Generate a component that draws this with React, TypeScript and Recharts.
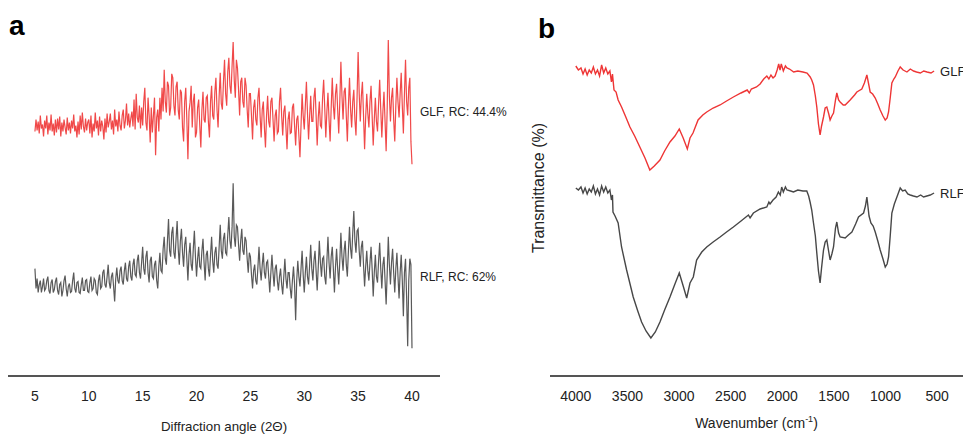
import React from 'react';
import { LineChart, Line, XAxis, YAxis, ReferenceDot } from 'recharts';

const FONT = '"Liberation Sans", Arial, sans-serif';

// XRD (panel a) - diffraction angle 2θ, intensities in a.u. (offset traces)
const angles = [
  5, 5.1, 5.2, 5.3, 5.4, 5.5, 5.6, 5.7, 5.8, 5.9,
  6, 6.1, 6.2, 6.3, 6.4, 6.5, 6.6, 6.7, 6.8, 6.9,
  7, 7.1, 7.2, 7.3, 7.4, 7.5, 7.6, 7.7, 7.8, 7.9,
  8, 8.1, 8.2, 8.3, 8.4, 8.5, 8.6, 8.7, 8.8, 8.9,
  9, 9.1, 9.2, 9.3, 9.4, 9.5, 9.6, 9.7, 9.8, 9.9,
  10, 10.1, 10.2, 10.3, 10.4, 10.5, 10.6, 10.7, 10.8, 10.9,
  11, 11.1, 11.2, 11.3, 11.4, 11.5, 11.6, 11.7, 11.8, 11.9,
  12, 12.1, 12.2, 12.3, 12.4, 12.5, 12.6, 12.7, 12.8, 12.9,
  13, 13.1, 13.2, 13.3, 13.4, 13.5, 13.6, 13.7, 13.8, 13.9,
  14, 14.1, 14.2, 14.3, 14.4, 14.5, 14.6, 14.7, 14.8, 14.9,
  15, 15.1, 15.2, 15.3, 15.4, 15.5, 15.6, 15.7, 15.8, 15.9,
  16, 16.1, 16.2, 16.3, 16.4, 16.5, 16.6, 16.7, 16.8, 16.9,
  17, 17.1, 17.2, 17.3, 17.4, 17.5, 17.6, 17.7, 17.8, 17.9,
  18, 18.1, 18.2, 18.3, 18.4, 18.5, 18.6, 18.7, 18.8, 18.9,
  19, 19.1, 19.2, 19.3, 19.4, 19.5, 19.6, 19.7, 19.8, 19.9,
  20, 20.1, 20.2, 20.3, 20.4, 20.5, 20.6, 20.7, 20.8, 20.9,
  21, 21.1, 21.2, 21.3, 21.4, 21.5, 21.6, 21.7, 21.8, 21.9,
  22, 22.1, 22.2, 22.3, 22.4, 22.5, 22.6, 22.7, 22.8, 22.9,
  23, 23.1, 23.2, 23.3, 23.4, 23.5, 23.6, 23.7, 23.8, 23.9,
  24, 24.1, 24.2, 24.3, 24.4, 24.5, 24.6, 24.7, 24.8, 24.9,
  25, 25.1, 25.2, 25.3, 25.4, 25.5, 25.6, 25.7, 25.8, 25.9,
  26, 26.1, 26.2, 26.3, 26.4, 26.5, 26.6, 26.7, 26.8, 26.9,
  27, 27.1, 27.2, 27.3, 27.4, 27.5, 27.6, 27.7, 27.8, 27.9,
  28, 28.1, 28.2, 28.3, 28.4, 28.5, 28.6, 28.7, 28.8, 28.9,
  29, 29.1, 29.2, 29.3, 29.4, 29.5, 29.6, 29.7, 29.8, 29.9,
  30, 30.1, 30.2, 30.3, 30.4, 30.5, 30.6, 30.7, 30.8, 30.9,
  31, 31.1, 31.2, 31.3, 31.4, 31.5, 31.6, 31.7, 31.8, 31.9,
  32, 32.1, 32.2, 32.3, 32.4, 32.5, 32.6, 32.7, 32.8, 32.9,
  33, 33.1, 33.2, 33.3, 33.4, 33.5, 33.6, 33.7, 33.8, 33.9,
  34, 34.1, 34.2, 34.3, 34.4, 34.5, 34.6, 34.7, 34.8, 34.9,
  35, 35.1, 35.2, 35.3, 35.4, 35.5, 35.6, 35.7, 35.8, 35.9,
  36, 36.1, 36.2, 36.3, 36.4, 36.5, 36.6, 36.7, 36.8, 36.9,
  37, 37.1, 37.2, 37.3, 37.4, 37.5, 37.6, 37.7, 37.8, 37.9,
  38, 38.1, 38.2, 38.3, 38.4, 38.5, 38.6, 38.7, 38.8, 38.9,
  39, 39.1, 39.2, 39.3, 39.4, 39.5, 39.6, 39.7, 39.8, 39.9,
  40,
];

const glfCounts = [
  246, 258, 247, 256, 244, 262, 249, 253, 241, 257,
  249, 262, 243, 255, 247, 263, 246, 254, 242, 258,
  245, 259, 248, 261, 241, 255, 246, 258, 250, 243,
  260, 247, 255, 244, 257, 249, 263, 246, 252, 240,
  256, 243, 262, 248, 265, 251, 245, 259, 247, 255,
  258, 244, 262, 240, 254, 246, 265, 249, 257, 242,
  261, 246, 257, 251, 238, 259, 245, 264, 250, 256,
  264, 248, 257, 243, 268, 251, 258, 246, 266, 252,
  247, 262, 268, 249, 257, 274, 252, 264, 250, 259,
  266, 251, 278, 248, 284, 260, 255, 272, 249, 270,
  252, 276, 290, 255, 247, 280, 262, 235, 270, 245,
  262, 280, 222, 260, 268, 246, 280, 258, 290, 266,
  308, 276, 265, 296, 292, 262, 270, 304, 300, 272,
  262, 291, 296, 268, 258, 288, 285, 250, 236, 276,
  290, 258, 218, 266, 275, 292, 250, 276, 284, 240,
  245, 270, 278, 252, 230, 268, 286, 258, 255, 280,
  282, 256, 240, 276, 292, 262, 258, 286, 300, 268,
  250, 282, 305, 274, 268, 296, 318, 284, 272, 306,
  320, 292, 284, 312, 336, 298, 280, 318, 310, 288,
  262, 296, 300, 276, 270, 300, 292, 268, 250, 284,
  284, 262, 238, 270, 278, 258, 252, 280, 290, 262,
  240, 268, 276, 250, 230, 262, 282, 256, 250, 276,
  280, 258, 236, 262, 268, 244, 246, 276, 290, 262,
  242, 266, 272, 250, 228, 258, 266, 244, 245, 270,
  274, 252, 232, 258, 262, 242, 220, 252, 284, 262,
  248, 272, 296, 264, 238, 262, 282, 256, 256, 280,
  290, 262, 232, 260, 276, 252, 250, 280, 298, 270,
  240, 266, 285, 258, 236, 270, 300, 272, 258, 284,
  294, 268, 244, 276, 316, 282, 258, 286, 290, 262,
  236, 272, 300, 268, 250, 276, 288, 258, 242, 280,
  326, 284, 256, 282, 296, 262, 228, 260, 284, 264,
  250, 276, 292, 262, 232, 258, 280, 256, 246, 274,
  298, 268, 240, 266, 286, 256, 226, 270, 338, 282,
  256, 280, 290, 258, 236, 272, 300, 276, 260, 284,
  305, 272, 244, 284, 318, 276, 262, 290, 300, 236,
  213,
];

const rlfCounts = [
  108, 88, 98, 84, 92, 96, 84, 90, 98, 86,
  88, 96, 100, 86, 83, 94, 97, 84, 87, 95,
  99, 86, 82, 92, 94, 80, 86, 96, 101, 88,
  80, 90, 93, 84, 85, 96, 104, 88, 84, 94,
  95, 84, 83, 92, 99, 86, 86, 96, 97, 85,
  84, 94, 100, 86, 88, 98, 96, 84, 82, 96,
  102, 88, 90, 104, 107, 92, 89, 100, 112, 94,
  88, 100, 104, 90, 75, 98, 109, 96, 93, 106,
  110, 96, 92, 106, 114, 98, 95, 110, 116, 100,
  96, 112, 118, 102, 100, 116, 122, 104, 98, 114,
  130, 108, 102, 120, 126, 104, 94, 116, 120, 100,
  98, 112, 116, 96, 88, 110, 124, 106, 104, 128,
  140, 118, 112, 136, 158, 126, 120, 144, 150, 124,
  118, 138, 156, 128, 112, 136, 148, 124, 110, 132,
  140, 118, 96, 122, 134, 112, 106, 128, 146, 120,
  100, 118, 130, 110, 108, 126, 138, 114, 96, 122,
  126, 108, 100, 122, 140, 116, 104, 124, 130, 112,
  108, 130, 152, 126, 118, 138, 144, 124, 122, 142,
  160, 136, 128, 150, 194, 140, 130, 152, 150, 132,
  116, 136, 148, 126, 122, 140, 136, 118, 104, 124,
  120, 102, 88, 106, 112, 96, 92, 110, 130, 108,
  96, 112, 124, 104, 98, 114, 116, 100, 84, 104,
  122, 104, 90, 108, 112, 96, 86, 100, 108, 92,
  82, 100, 118, 98, 88, 104, 104, 88, 78, 96,
  110, 92, 56, 96, 116, 100, 90, 108, 126, 102,
  84, 104, 120, 100, 92, 112, 132, 108, 96, 116,
  126, 106, 86, 110, 136, 114, 100, 118, 120, 100,
  92, 116, 140, 114, 98, 120, 130, 108, 84, 110,
  128, 108, 92, 116, 144, 120, 106, 126, 136, 112,
  100, 126, 150, 128, 118, 144, 166, 136, 124, 146,
  148, 126, 110, 130, 136, 112, 90, 110, 126, 106,
  96, 114, 130, 108, 80, 104, 122, 100, 94, 116,
  134, 108, 88, 112, 120, 96, 72, 104, 140, 112,
  92, 114, 128, 104, 84, 108, 124, 100, 78, 104,
  122, 96, 60, 104, 118, 80, 30, 96, 118, 112,
  28,
];

const xrdTicks = [5, 10, 15, 20, 25, 30, 35, 40];

// FTIR (panel b) - wavenumber (cm-1) and transmittance (offset traces)
const glfWavenumber = [
  4000, 3975, 3950, 3930, 3910, 3890, 3870, 3850, 3830, 3810, 3790, 3770, 3750, 3730, 3710, 3690,
  3670, 3655, 3645, 3630, 3610, 3590, 3557, 3520, 3476, 3430, 3380, 3330, 3283, 3240, 3185, 3140,
  3088, 3040, 2998, 2960, 2920, 2894, 2865, 2816, 2770, 2732, 2670, 2603, 2540, 2474, 2400, 2340,
  2320, 2300, 2250, 2215, 2180, 2150, 2130, 2110, 2090, 2070, 2050, 2035, 2022, 2010, 1990, 1970,
  1955, 1930, 1890, 1850, 1800, 1760, 1730, 1715, 1698, 1680, 1666, 1650, 1634, 1620, 1601, 1585,
  1569, 1550, 1537, 1520, 1504, 1485, 1472, 1455, 1440, 1410, 1391, 1343, 1300, 1278, 1230, 1205,
  1181, 1160, 1149, 1125, 1100, 1075, 1052, 1025, 1003, 985, 971, 955, 939, 920, 906, 880,
  858, 830, 793, 760, 729, 700, 663, 630, 598, 560, 530,
];
const glfTransmittance = [
  310, 306, 308, 302, 307, 301, 306, 303, 309, 302, 306, 300, 311, 303, 308, 302,
  305, 294, 302, 286, 284, 276, 269, 260, 249, 240, 229, 218, 206, 210, 216, 225,
  234, 240, 247, 238, 227, 238, 243, 256, 261, 264, 268, 271, 275, 279, 283, 286,
  283, 287, 289, 292, 297, 300, 297, 301, 298, 300, 306, 312, 306, 312, 305, 310,
  308, 307, 304, 305, 304, 303, 299, 296, 291, 280, 269, 252, 241, 250, 259, 268,
  269, 262, 256, 260, 263, 276, 283, 276, 274, 271, 271, 276, 281, 284, 287, 293,
  301, 290, 284, 282, 278, 272, 266, 260, 256, 258, 264, 278, 293, 297, 299, 305,
  309, 306, 304, 307, 305, 304, 303, 305, 304, 303, 305,
];

const rlfWavenumber = [
  4000, 3975, 3950, 3930, 3910, 3890, 3870, 3850, 3830, 3810, 3790, 3770, 3750, 3730, 3710, 3690,
  3670, 3655, 3645, 3640, 3620, 3590, 3557, 3508, 3444, 3400, 3363, 3320, 3273, 3230, 3185, 3140,
  3088, 3040, 2998, 2960, 2926, 2894, 2862, 2830, 2780, 2732, 2670, 2603, 2540, 2474, 2400, 2328,
  2312, 2280, 2215, 2150, 2130, 2119, 2090, 2060, 2038, 2020, 2006, 1990, 1970, 1955, 1920, 1892,
  1850, 1800, 1763, 1745, 1731, 1715, 1698, 1680, 1666, 1650, 1634, 1620, 1601, 1585, 1569, 1550,
  1537, 1520, 1504, 1485, 1472, 1455, 1440, 1391, 1360, 1326, 1290, 1262, 1213, 1195, 1181, 1160,
  1142, 1120, 1100, 1075, 1052, 1025, 1003, 985, 971, 955, 939, 915, 890, 858, 835, 810,
  785, 761, 730, 696, 660, 632, 600, 567, 530,
];
const rlfTransmittance = [
  188, 186, 189, 183, 188, 182, 187, 184, 190, 182, 187, 181, 190, 184, 189, 183,
  186, 176, 181, 164, 160, 153, 129, 106, 79, 65, 54, 45, 38, 44, 54, 66,
  79, 92, 103, 90, 78, 93, 99, 116, 124, 129, 134, 139, 144, 149, 155, 161,
  158, 163, 167, 169, 174, 172, 176, 179, 184, 181, 189, 184, 189, 186, 185, 184,
  186, 185, 185, 180, 174, 166, 153, 140, 123, 105, 93, 108, 126, 134, 136, 124,
  116, 122, 129, 148, 154, 143, 139, 138, 141, 144, 152, 159, 163, 170, 179, 160,
  153, 150, 144, 135, 126, 117, 109, 112, 119, 140, 163, 172, 179, 188, 185, 186,
  182, 181, 180, 179, 181, 179, 180, 181, 183,
];

const ftirTicks = [4000, 3500, 3000, 2500, 2000, 1500, 1000, 500];

const xrdData = angles.map((a, i) => ({ angle: a, glf: glfCounts[i], rlf: rlfCounts[i] }));
const glfFtir = glfWavenumber.map((w, i) => ({ wn: w, t: glfTransmittance[i] }));
const rlfFtir = rlfWavenumber.map((w, i) => ({ wn: w, t: rlfTransmittance[i] }));

const RED = '#ee3535';
const GRAY = '#474747';
const AXIS = '#555';
const tickStyle = { fontSize: 14, fill: '#222', fontFamily: FONT };

const WavenumberLabel = ({ viewBox }: any) => {
  const { x, y, width } = viewBox;
  return (
    <text x={x + width / 2} y={y + 52} textAnchor="middle" fontSize={14} fill="#222" fontFamily={FONT}>
      Wavenumber (cm
      <tspan dy={-6} fontSize={9}>-1</tspan>
      <tspan dy={6}>)</tspan>
    </text>
  );
};

const TransmittanceLabel = ({ viewBox }: any) => {
  const { x, y, height } = viewBox;
  const cx = x + 24;
  const cy = y + height / 2 - 20;
  return (
    <text x={cx} y={cy} transform={`rotate(-90, ${cx}, ${cy})`} textAnchor="middle" fontSize={16} fill="#222" fontFamily={FONT}>
      Transmittance (%)
    </text>
  );
};

const panelLetter: React.CSSProperties = {
  position: 'absolute',
  fontFamily: FONT,
  fontWeight: 'bold',
  fontSize: 28,
  lineHeight: 1,
  color: '#000',
};

const App = () => {
  return (
    <div style={{ position: 'absolute', left: 0, top: 0, width: 963, height: 434, background: '#fff', overflow: 'hidden' }}>
      <div style={{ ...panelLetter, left: 9, top: 12 }}>a</div>
      <div style={{ ...panelLetter, left: 538, top: 15 }}>b</div>

      <div style={{ position: 'absolute', left: 0, top: 0 }}>
        <LineChart width={520} height={434} data={xrdData} margin={{ top: 40, right: 80, bottom: 0, left: 8 }}>
          <XAxis
            type="number"
            dataKey="angle"
            domain={[2.5, 42.6]}
            ticks={xrdTicks}
            tickLine={false}
            axisLine={{ stroke: AXIS, strokeWidth: 2 }}
            tick={tickStyle}
            tickMargin={9}
            height={58}
            label={{ value: 'Diffraction angle (2Θ)', position: 'insideBottom', offset: 3, fontSize: 13.3, fill: '#222', fontFamily: FONT }}
          />
          <YAxis hide domain={[0, 336]} />
          <Line type="linear" dataKey="glf" stroke={RED} strokeWidth={1.2} strokeOpacity={0.9} dot={false} isAnimationActive={false} />
          <Line type="linear" dataKey="rlf" stroke={GRAY} strokeWidth={1.2} strokeOpacity={0.9} dot={false} isAnimationActive={false} />
          <ReferenceDot
            x={40}
            y={266}
            r={0}
            fill="none"
            stroke="none"
            ifOverflow="visible"
            label={{ value: 'GLF, RC: 44.4%', position: 'right', offset: 8, fontSize: 12, fill: '#222', fontFamily: FONT }}
          />
          <ReferenceDot
            x={40}
            y={100}
            r={0}
            fill="none"
            stroke="none"
            ifOverflow="visible"
            label={{ value: 'RLF, RC: 62%', position: 'right', offset: 8, fontSize: 12, fill: '#222', fontFamily: FONT }}
          />
        </LineChart>
      </div>

      <div style={{ position: 'absolute', left: 520, top: 0 }}>
        <LineChart width={443} height={434} margin={{ top: 40, right: 0, bottom: 0, left: 0 }}>
          <XAxis
            type="number"
            dataKey="wn"
            domain={[250, 4250]}
            reversed
            ticks={ftirTicks}
            tickLine={false}
            axisLine={{ stroke: AXIS, strokeWidth: 2 }}
            tick={tickStyle}
            tickMargin={9}
            height={58}
            label={{ content: WavenumberLabel }}
          />
          <YAxis
            type="number"
            width={30}
            domain={[0, 336]}
            tick={false}
            tickLine={false}
            axisLine={false}
            label={{ content: TransmittanceLabel }}
          />
          <Line data={glfFtir} type="linear" dataKey="t" stroke={RED} strokeWidth={1.4} dot={false} isAnimationActive={false} />
          <Line data={rlfFtir} type="linear" dataKey="t" stroke={GRAY} strokeWidth={1.4} dot={false} isAnimationActive={false} />
          <ReferenceDot
            x={530}
            y={305}
            r={0}
            fill="none"
            stroke="none"
            ifOverflow="visible"
            label={{ value: 'GLF', position: 'right', offset: 6, fontSize: 13, fill: '#222', fontFamily: FONT }}
          />
          <ReferenceDot
            x={530}
            y={183}
            r={0}
            fill="none"
            stroke="none"
            ifOverflow="visible"
            label={{ value: 'RLF', position: 'right', offset: 6, fontSize: 13, fill: '#222', fontFamily: FONT }}
          />
        </LineChart>
      </div>
    </div>
  );
};

export default App;
